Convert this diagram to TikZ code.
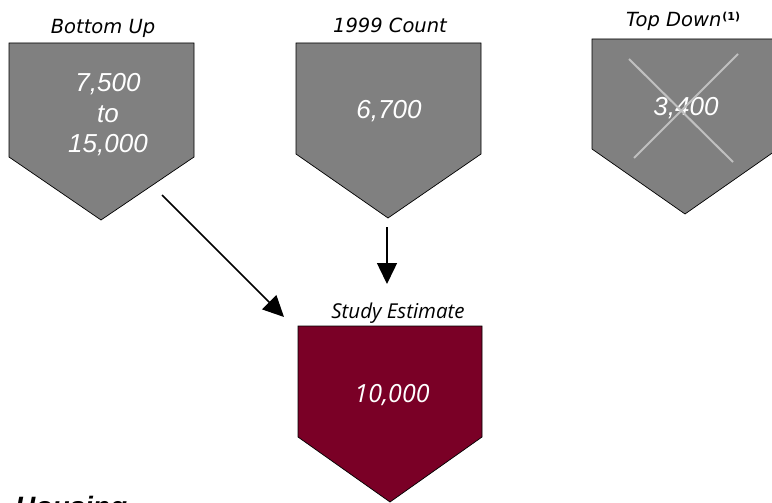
\documentclass[tikz,border=0pt]{standalone}
\usepackage{fontspec}
\usetikzlibrary{arrows.meta}
\newfontfamily\labfont{DejaVu Sans}
\newfontfamily\numfont{Liberation Sans}
\newfontfamily\opfont{Open Sans}
\definecolor{boxgray}{HTML}{808080}
\definecolor{maroon}{HTML}{7A0026}
\definecolor{crossgray}{HTML}{C0C0C0}
\tikzset{
  pent/.style={fill=boxgray, draw=black, line width=0.7pt, line join=miter},
  lab/.style={inner sep=0pt, anchor=base, font=\labfont\itshape\fontsize{19.5}{22}\selectfont},
  num/.style={inner sep=0pt, anchor=base, text=white, font=\numfont\itshape\fontsize{26}{30}\selectfont},
  arr/.style={line width=1.5pt, -{Triangle[length=21pt,width=20pt]}},
}
\begin{document}
\begin{tikzpicture}[x=1pt,y=-1pt]
\useasboundingbox (0,0) rectangle (772,503);
\clip (0,0) rectangle (772,503);
\fill[white] (0,0) rectangle (772,503);
% pentagons
\draw[pent] (9,43) -- (194,43) -- (194,157) -- (101,220) -- (9,157) -- cycle;
\draw[pent] (296,43) -- (481,43) -- (481,154) -- (388,218) -- (296,154) -- cycle;
\draw[pent] (592,39) -- (778,39) -- (778,149) -- (685,214) -- (592,149) -- cycle;
\draw[pent, fill=maroon] (298,326) -- (482,326) -- (482,437) -- (390,502) -- (298,437) -- cycle;
% labels
\node[lab] (lbu) at (103,34) {Bottom Up};
\node[lab] (lcount) at (390,33) {1999 Count};
\node[lab, anchor=base west] (ltd) at (626,27) {Top Down\kern1pt\raisebox{6pt}{\fontsize{11}{11}\selectfont\bfseries\upshape (1)}};
\node[lab, font=\opfont\itshape\fontsize{20.5}{24}\selectfont] (lse) at (398,318) {Study Estimate};
% numbers
\node[num] (n1) at (108,92) {7,500};
\node[num] (n2) at (108,123) {to};
\node[num] (n3) at (108,152) {15,000};
\node[num] (n4) at (389,119) {6,700};
\node[num] (n5) at (686,116) {3,400};
\node[num, font=\opfont\itshape\fontsize{25}{30}\selectfont] (n6) at (392,402) {10,000};
% cross
\coordinate (c1) at (629,59);
\coordinate (c2) at (733,162);
\coordinate (c3) at (738,54);
\coordinate (c4) at (634,158);
\draw[crossgray, line width=2pt] (c1) -- (c2);
\draw[crossgray, line width=2pt] (c3) -- (c4);
% arrows
\coordinate (a1s) at (162,195);
\coordinate (a1e) at (284,317);
\coordinate (a2s) at (387,227);
\coordinate (a2e) at (387,284);
\draw[arr] (a1s) -- (a1e);
\draw[arr] (a2s) -- (a2e);
% Housing
\node[inner sep=0pt, anchor=base west, font=\numfont\bfseries\itshape\fontsize{28}{32}\selectfont] (hous) at (15,516) {Housing};
\end{tikzpicture}
\end{document}
